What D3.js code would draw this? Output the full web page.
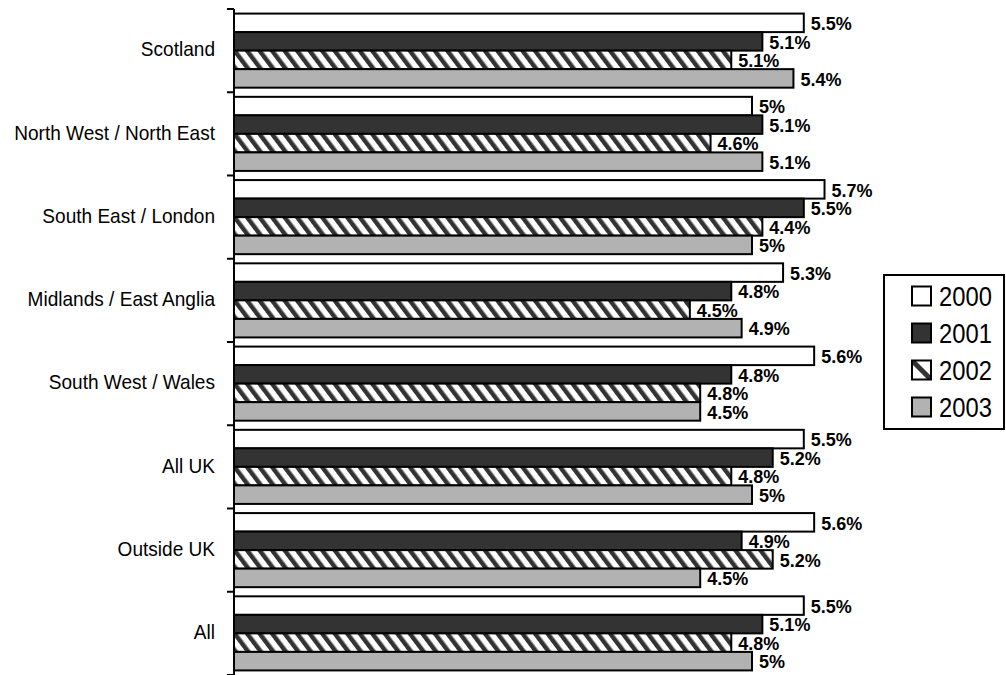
<!DOCTYPE html>
<html><head><meta charset="utf-8">
<script src="https://cdn.jsdelivr.net/npm/d3@7"></script>
<style>body{margin:0;background:#fff}svg{display:block}</style>
</head><body>
<svg id="chart" width="1006" height="675"></svg>
<script>
const categories = ["Scotland","North West / North East","South East / London","Midlands / East Anglia","South West / Wales","All UK","Outside UK","All"];
const seriesNames = ["2000","2001","2002","2003"];
const v2000 = [5.5,5.0,5.7,5.3,5.6,5.5,5.6,5.5];
const v2001 = [5.1,5.1,5.5,4.8,4.8,5.2,4.9,5.1];
const v2002 = [4.8,4.6,5.1,4.4,4.5,4.8,5.2,4.8];
const v2003 = [5.4,5.1,5.0,4.9,4.5,5.0,4.5,5.0];
const labels2000 = ["5.5%","5%","5.7%","5.3%","5.6%","5.5%","5.6%","5.5%"];
const labels2001 = ["5.1%","5.1%","5.5%","4.8%","4.8%","5.2%","4.9%","5.1%"];
const labels2002 = ["5.1%","4.6%","4.4%","4.5%","4.8%","4.8%","5.2%","4.8%"];
const labels2003 = ["5.4%","5.1%","5%","4.9%","4.5%","5%","4.5%","5%"];

const values = [v2000,v2001,v2002,v2003];
const labels = [labels2000,labels2001,labels2002,labels2003];
const fills = ["#ffffff","#333333","url(#hatch)","#b2b2b2"];

const svg = d3.select("#chart");
const defs = svg.append("defs");
const pat = defs.append("pattern").attr("id","hatch").attr("patternUnits","userSpaceOnUse")
  .attr("width",10).attr("height",10).attr("patternTransform","rotate(-37)");
pat.append("rect").attr("width",10).attr("height",10).attr("fill","#fff");
pat.append("rect").attr("width",4.5).attr("height",10).attr("fill","#333");

const axisX = 234;
const x = d3.scaleLinear().domain([0,6]).range([axisX, axisX + 6*103.6]);
const y0 = d3.scaleBand().domain(categories).range([9,675]).padding(0);
const step = y0.step();
const pad = step*0.055;
const y1 = d3.scaleBand().domain(seriesNames).range([pad, step-pad]).padding(0);

const font = "'Liberation Sans', Arial, sans-serif";

const groups = svg.append("g").selectAll("g").data(categories).join("g")
  .attr("transform", d => `translate(0,${y0(d)})`);

seriesNames.forEach((s, si) => {
  groups.append("rect")
    .attr("x", x(0))
    .attr("y", y1(s))
    .attr("width", (d,i) => x(values[si][i]) - x(0))
    .attr("height", y1.bandwidth())
    .attr("fill", fills[si])
    .attr("stroke", "#000").attr("stroke-width", 2);
  groups.append("text")
    .attr("x", (d,i) => x(values[si][i]) + 7)
    .attr("y", y1(s) + y1.bandwidth()/2 + 1)
    .attr("dy", "0.35em")
    .attr("font-family", font).attr("font-weight", "bold").attr("font-size", 18)
    .attr("fill", "#000")
    .text((d,i) => labels[si][i]);
});

// axis
const ax = svg.append("g");
ax.append("line").attr("x1",axisX).attr("x2",axisX).attr("y1",y0.range()[0]).attr("y2",y0.range()[1])
  .attr("stroke","#000").attr("stroke-width",2);
const tickPos = categories.map(c => y0(c)).concat([y0.range()[1]]);
ax.selectAll("line.tick").data(tickPos).join("line").attr("class","tick")
  .attr("x1",axisX-7).attr("x2",axisX).attr("y1",d=>d).attr("y2",d=>d)
  .attr("stroke","#000").attr("stroke-width",2);
ax.selectAll("text").data(categories).join("text")
  .attr("transform", d => `translate(215,${y0(d) + step/2 - 1.5}) scale(0.93,1)`)
  .attr("dy","0.35em")
  .attr("text-anchor","end")
  .attr("font-family", font).attr("font-size", 20.5).attr("fill","#000")
  .text(d => d);

// legend
const lg = svg.append("g");
lg.append("rect").attr("x",884).attr("y",275).attr("width",120).attr("height",154)
  .attr("fill","#fff").attr("stroke","#000").attr("stroke-width",2);
defs.append("clipPath").attr("id","lgclip").append("rect").attr("x",912).attr("y",370-9.5).attr("width",19).attr("height",19);
seriesNames.forEach((s, si) => {
  const cy = 296 + si*37;
  if (si === 2) {
    lg.append("rect").attr("x",912).attr("y",cy-9.5).attr("width",19).attr("height",19).attr("fill","#fff");
    lg.append("line").attr("x1",912).attr("y1",cy-9.5).attr("x2",931).attr("y2",cy+9.5)
      .attr("stroke","#333").attr("stroke-width",5).attr("clip-path","url(#lgclip)");
    lg.append("rect").attr("x",912).attr("y",cy-9.5).attr("width",19).attr("height",19)
      .attr("fill","none").attr("stroke","#000").attr("stroke-width",2);
  } else {
    lg.append("rect").attr("x",912).attr("y",cy-9.5).attr("width",19).attr("height",19)
      .attr("fill",fills[si]).attr("stroke","#000").attr("stroke-width",2);
  }
  lg.append("text").attr("transform",`translate(939,${cy+1}) scale(0.88,1)`)
    .attr("dy","0.35em").attr("font-family",font).attr("font-size",27).attr("fill","#000")
    .text(s);
});
</script>
</body></html>
